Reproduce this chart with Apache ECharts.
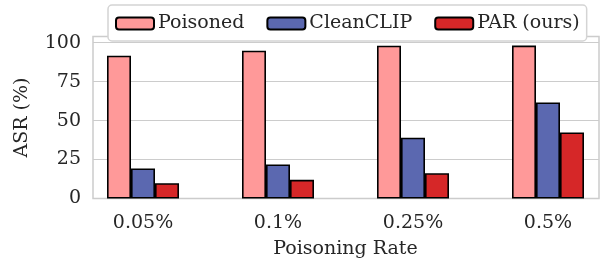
<!DOCTYPE html>
<html>
<head>
<meta charset="utf-8">
<script src="https://cdn.jsdelivr.net/npm/echarts@6/dist/echarts.min.js"></script>
<style>
  html, body { margin: 0; padding: 0; background: #fff; }
  #main { width: 602px; height: 259px; }
</style>
</head>
<body>
<div id="main"></div>
<script>
var rates = ['0.05%', '0.1%', '0.25%', '0.5%'];
var poisoned = [91.7, 94.9, 98.1, 98.2];
var cleanclip = [19.3, 21.9, 39.0, 61.7];
var par = [9.8, 12.0, 16.2, 42.4];
var yTicks = [0, 25, 50, 75, 100];

var chart = echarts.init(document.getElementById('main'));
var font = 'DejaVu Serif';
var txt = '#262626';
var plotTop = 36.5, plotBottom = 60.5;

function barSeries(name, data, color) {
  return {
    name: name,
    type: 'bar',
    xAxisIndex: 0,
    yAxisIndex: 0,
    data: data,
    barWidth: 24,
    barGap: '0%',
    itemStyle: { color: color, borderColor: '#000', borderWidth: 1.6 }
  };
}

var option = {
  animation: false,
  textStyle: { fontFamily: font },
  legend: {
    left: 108,
    top: 5,
    padding: [9, 7, 8, 7],
    itemGap: 22,
    itemWidth: 38,
    itemHeight: 12,
    borderColor: '#d4d4d4',
    borderWidth: 1.5,
    borderRadius: 4,
    backgroundColor: '#fff',
    textStyle: { fontFamily: font, fontSize: 19, color: txt, padding: [0, 0, 0, -1] },
    data: ['Poisoned', 'CleanCLIP', 'PAR (ours)']
  },
  grid: [
    { left: 75.5, width: 540, top: plotTop, bottom: plotBottom, outerBoundsMode: 'none' },
    { left: 93, right: 3, top: plotTop, bottom: plotBottom, show: true, outerBoundsMode: 'none',
      borderColor: '#cccccc', borderWidth: 1.5, backgroundColor: 'transparent' }
  ],
  xAxis: [
    {
      type: 'category',
      gridIndex: 0,
      data: rates,
      axisLine: { show: false },
      axisTick: { show: false },
      axisLabel: { fontFamily: font, fontSize: 19, color: txt, margin: 15 },
      name: 'Poisoning Rate',
      nameLocation: 'middle',
      nameGap: 41,
      nameTextStyle: { fontFamily: font, fontSize: 19, color: txt }
    },
    {
      type: 'value',
      gridIndex: 1,
      show: false
    }
  ],
  yAxis: [
    { type: 'value', gridIndex: 0, min: 0, max: 104, show: false },
    {
      type: 'value',
      gridIndex: 1,
      min: 0,
      max: 104,
      interval: 25,
      axisLine: { show: false },
      axisTick: { show: false },
      splitLine: { lineStyle: { color: '#cccccc', width: 1.2 } },
      axisLabel: {
        fontFamily: font, fontSize: 19, color: txt, margin: 12,
        formatter: function (v) { return yTicks.indexOf(v) >= 0 ? String(v) : ''; }
      },
      name: 'ASR (%)',
      nameLocation: 'middle',
      nameGap: 61,
      nameTextStyle: { fontFamily: font, fontSize: 19, color: txt }
    }
  ],
  series: [
    barSeries('Poisoned', poisoned, '#ff9999'),
    barSeries('CleanCLIP', cleanclip, '#5b68b0'),
    barSeries('PAR (ours)', par, '#d62728')
  ]
};

chart.setOption(option);
</script>
</body>
</html>
